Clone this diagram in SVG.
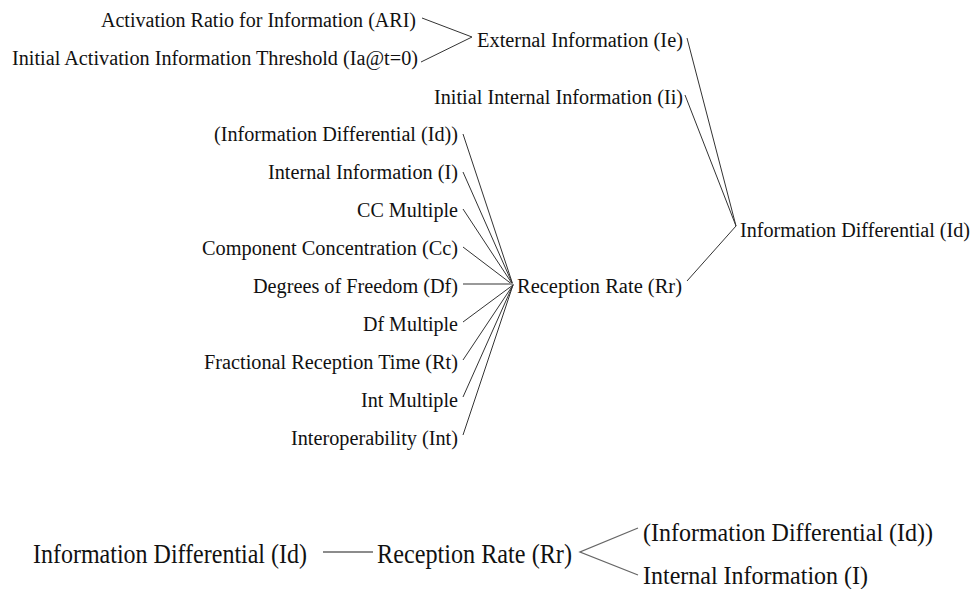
<svg xmlns="http://www.w3.org/2000/svg" width="973" height="589" viewBox="0 0 973 589">
<style>
.t{font-size:20px;}
.b{font-size:27px;}
.r{font-size:25px;}
.c{stroke:#333;stroke-width:1;fill:none;}
.g{stroke:#999;stroke-width:2;fill:none;}
.bl{stroke:#666;stroke-width:1.3;fill:none;}
</style>
<rect width="973" height="589" fill="#fff"/>
<g id="connectors">
<polyline class="c" points="422,18 472,37 421,62"/>
<line class="c" x1="687" y1="38" x2="736" y2="226"/>
<line class="c" x1="685" y1="95" x2="736" y2="226"/>
<line class="c" x1="687" y1="281" x2="736" y2="226"/>
<line class="c" x1="463" y1="134" x2="513" y2="285"/>
<line class="c" x1="463" y1="172" x2="513" y2="285"/>
<line class="c" x1="463" y1="209" x2="513" y2="285"/>
<line class="c" x1="463" y1="247" x2="513" y2="285"/>
<line class="g" x1="463" y1="284" x2="513" y2="284"/>
<line class="c" x1="463" y1="322" x2="513" y2="285"/>
<line class="c" x1="463" y1="360" x2="513" y2="285"/>
<line class="c" x1="463" y1="397" x2="513" y2="285"/>
<line class="c" x1="463" y1="435" x2="513" y2="285"/>
<line class="bl" x1="323" y1="552" x2="373" y2="552"/>
<polyline class="bl" points="638,528 580,552 638,575"/>
</g>
<g font-family="Liberation Serif, DejaVu Serif, serif" fill="#111">
<g id="n-ari"><text class="t" x="101" y="26.5" textLength="315" lengthAdjust="spacingAndGlyphs">Activation Ratio for Information (ARI)</text></g>
<g id="n-ia"><text class="t" x="12" y="64.5" textLength="406" lengthAdjust="spacingAndGlyphs">Initial Activation Information Threshold (Ia@t=0)</text></g>
<g id="n-ie"><text class="t" x="477" y="46.5" textLength="206" lengthAdjust="spacingAndGlyphs">External Information (Ie)</text></g>
<g id="n-ii"><text class="t" x="434" y="103.5" textLength="249" lengthAdjust="spacingAndGlyphs">Initial Internal Information (Ii)</text></g>
<g id="n-id-ref"><text class="t" x="214" y="140.5" textLength="244" lengthAdjust="spacingAndGlyphs">(Information Differential (Id))</text></g>
<g id="n-i"><text class="t" x="268" y="178.5" textLength="190" lengthAdjust="spacingAndGlyphs">Internal Information (I)</text></g>
<g id="n-ccm"><text class="t" x="357" y="216.5" textLength="101" lengthAdjust="spacingAndGlyphs">CC Multiple</text></g>
<g id="n-cc"><text class="t" x="202" y="254.5" textLength="256" lengthAdjust="spacingAndGlyphs">Component Concentration (Cc)</text></g>
<g id="n-df"><text class="t" x="253" y="292.5" textLength="205" lengthAdjust="spacingAndGlyphs">Degrees of Freedom (Df)</text></g>
<g id="n-dfm"><text class="t" x="363" y="330.5" textLength="95" lengthAdjust="spacingAndGlyphs">Df Multiple</text></g>
<g id="n-rt"><text class="t" x="204" y="368.5" textLength="254" lengthAdjust="spacingAndGlyphs">Fractional Reception Time (Rt)</text></g>
<g id="n-intm"><text class="t" x="361" y="406.5" textLength="97" lengthAdjust="spacingAndGlyphs">Int Multiple</text></g>
<g id="n-int"><text class="t" x="291" y="444.5" textLength="167" lengthAdjust="spacingAndGlyphs">Interoperability (Int)</text></g>
<g id="n-rr"><text class="t" x="517" y="292.5" textLength="165" lengthAdjust="spacingAndGlyphs">Reception Rate (Rr)</text></g>
<g id="n-id"><text class="t" x="740" y="236.5" textLength="230" lengthAdjust="spacingAndGlyphs">Information Differential (Id)</text></g>
<g id="b-id"><text class="b" x="33" y="563" textLength="274" lengthAdjust="spacingAndGlyphs">Information Differential (Id)</text></g>
<g id="b-rr"><text class="b" x="377" y="563" textLength="195" lengthAdjust="spacingAndGlyphs">Reception Rate (Rr)</text></g>
<g id="b-id-ref"><text class="r" x="643" y="541" textLength="290" lengthAdjust="spacingAndGlyphs">(Information Differential (Id))</text></g>
<g id="b-i"><text class="r" x="643" y="584" textLength="225" lengthAdjust="spacingAndGlyphs">Internal Information (I)</text></g>
</g>
</svg>
